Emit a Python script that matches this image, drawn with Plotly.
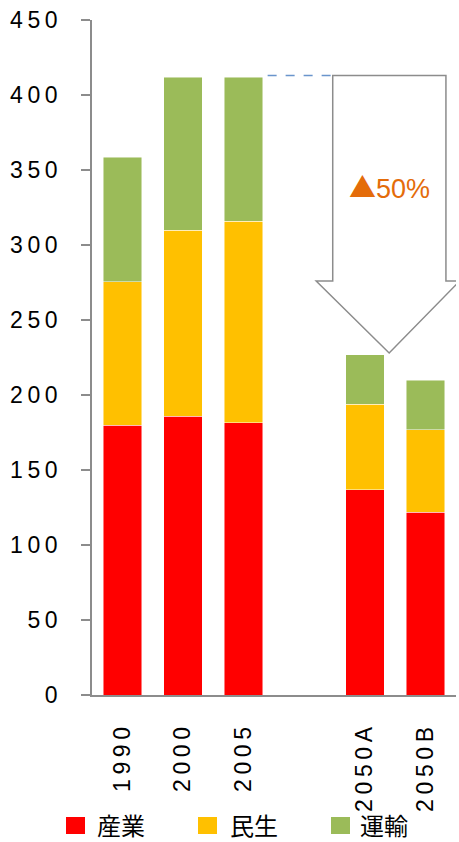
import plotly.graph_objects as go

# ---- data ----
categories = ["1990", "2000", "2005", "2050A", "2050B"]
slots = [0, 1, 2, 4, 5]          # slot 3 is an empty gap
industry = [180, 186, 181.5, 137, 122]      # 産業
residential = [95.5, 124, 134.5, 57, 55]    # 民生
transport = [83, 102, 96, 33, 33]           # 運輸
series_names = ["産業", "民生", "運輸"]
series_colors = ["#FF0000", "#FFC000", "#9BBB59"]
y_ticks = [0, 50, 100, 150, 200, 250, 300, 350, 400, 450]
reduction_mark = "▲"
reduction_text = "50%"

W, H = 459, 842
ML, MR, MT, MB = 92, 3, 20, 147
PW, PH = W - ML - MR, H - MT - MB
NUM_FONT = "Liberation Sans, Arial"


def spaced(s):
    return "\u2009".join(list(s))


def px_to_paper_x(px):
    return (px - ML) / PW


def px_to_paper_y(py):
    return (H - MB - py) / PH


fig = go.Figure()
for name, vals, col in zip(series_names, [industry, residential, transport], series_colors):
    fig.add_trace(go.Bar(
        x=slots, y=vals, name=name,
        marker=dict(color=col, line=dict(color="rgba(255,255,255,0.6)", width=0.8)),
        showlegend=False,
    ))

totals = [a + b + c for a, b, c in zip(industry, residential, transport)]
top = totals[2]
tip = totals[3]

# dashed connector from 2005 top to arrow
fig.add_shape(type="line", xref="x", yref="y", x0=2.395, x1=3.47, y0=top + 1, y1=top + 1,
              line=dict(color="#6A95CC", width=1.3, dash="dash"))

# block arrow
shaft_l, shaft_r = 3.468, 5.334
head_l, head_r = 3.195, 5.56
tip_x = 4.398
shoulder = 276
path = (f"M {shaft_l} {top+1} L {shaft_r} {top+1} L {shaft_r} {shoulder} L {head_r} {shoulder} "
        f"L {tip_x} {tip+1} L {head_l} {shoulder} L {shaft_l} {shoulder} Z")
fig.add_shape(type="path", xref="x", yref="y", path=path,
              fillcolor="white", line=dict(color="#8C8C8C", width=1.5), layer="above")

fig.add_annotation(
    x=4.41, y=339, xref="x", yref="y", showarrow=False,
    text=f"<span style='font-family:Noto Sans CJK JP'>{reduction_mark}</span>{reduction_text}",
    font=dict(family=NUM_FONT, size=27, color="#E46C0A"))

# manual legend
legend_sq_x = [66, 198, 331]
legend_txt_x = [95, 228, 358]
for name, col, sx, tx in zip(series_names, series_colors, legend_sq_x, legend_txt_x):
    fig.add_shape(type="rect", xref="paper", yref="paper",
                  x0=px_to_paper_x(sx), x1=px_to_paper_x(sx + 19),
                  y0=px_to_paper_y(834), y1=px_to_paper_y(817),
                  fillcolor=col, line=dict(width=0))
    fig.add_annotation(x=px_to_paper_x(tx), y=px_to_paper_y(824), xref="paper", yref="paper",
                       xanchor="left", yanchor="middle", showarrow=False, text=name,
                       font=dict(family="Noto Sans CJK JP", size=24, color="black"))

fig.update_layout(
    width=W, height=H,
    margin=dict(l=ML, r=MR, t=MT, b=MB, pad=0),
    paper_bgcolor="white", plot_bgcolor="white",
    barmode="stack", bargap=0.367,
    showlegend=False,
    font=dict(family=NUM_FONT, size=23, color="black"),
)
fig.update_xaxes(
    range=[-0.5, 5.5], tickmode="array", tickvals=slots,
    ticktext=[spaced(c) for c in categories], tickangle=-90,
    showline=True, linecolor="#8C8C8C", linewidth=1.5,
    ticks="outside", ticklen=21, tickcolor="rgba(0,0,0,0)",
    showgrid=False, zeroline=False,
    tickfont=dict(family=NUM_FONT, size=23, color="black"),
)
fig.update_yaxes(
    range=[0, 450], tickmode="array", tickvals=y_ticks,
    ticktext=[spaced(str(v)) for v in y_ticks],
    showline=True, linecolor="#8C8C8C", linewidth=1.5,
    ticks="outside", ticklen=9, tickcolor="#8C8C8C", tickwidth=1.5,
    ticklabelstandoff=19,
    showgrid=False, zeroline=False,
    tickfont=dict(family=NUM_FONT, size=23, color="black"),
)

fig.write_html("out.html")
